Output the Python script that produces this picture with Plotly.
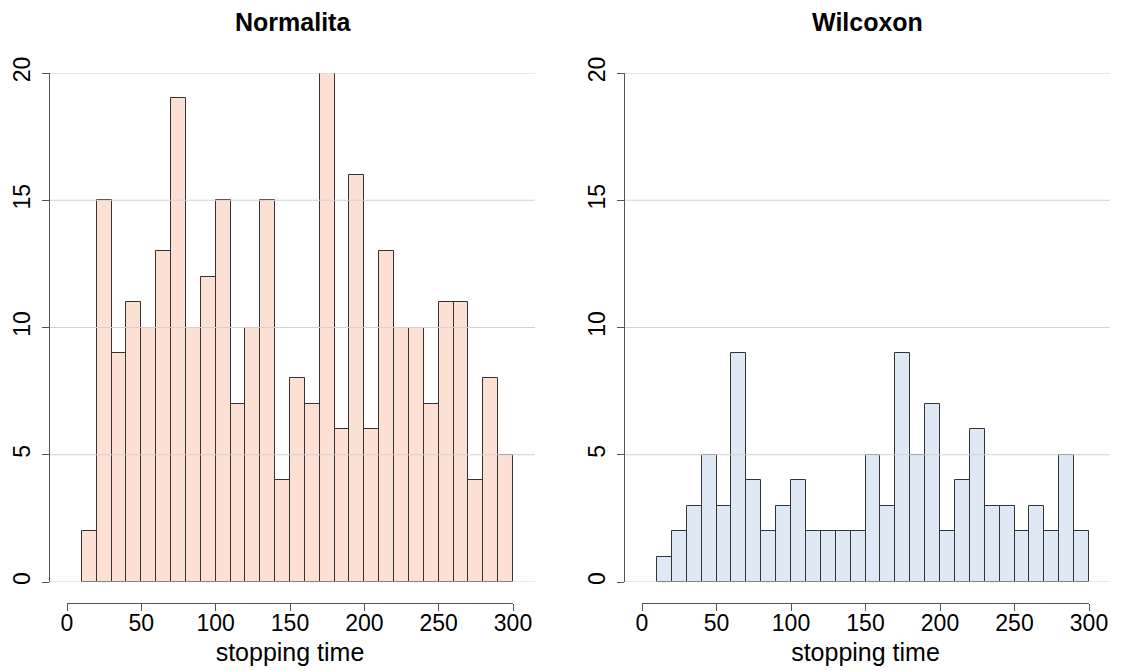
import plotly.graph_objects as go

# Histogram counts per 10-unit bin of stopping time (bins 10-20, 20-30, ..., 290-300)
bin_width = 10
bin_starts = list(range(10, 300, bin_width))

normalita_counts = [2, 15, 9, 11, 10, 13, 19, 10, 12, 15, 7, 10, 15, 4, 8,
                    7, 20, 6, 16, 6, 13, 10, 10, 7, 11, 11, 4, 8, 5]
wilcoxon_counts = [1, 2, 3, 5, 3, 9, 4, 2, 3, 4, 2, 2, 2, 2, 5,
                   3, 9, 5, 7, 2, 4, 6, 3, 3, 2, 3, 2, 5, 2]

panel_titles = ["Normalita", "Wilcoxon"]
x_tick_vals = [0, 50, 100, 150, 200, 250, 300]
y_tick_vals = [0, 5, 10, 15, 20]
x_label = "stopping time"

fill_colors = ["#FCE0D4", "#DEE9F5"]
outline = "#333333"
axis_color = "#555555"
grid_color = "#D2D2D2"
font_family = "Liberation Sans, Arial, sans-serif"

W, H = 1124, 671
ml, mr, mt, mb = 50, 14, 73, 68
pw = W - ml - mr          # paper width in px
ph = H - mt - mb          # paper height in px

# panel geometry in px (relative to paper)
panels = [
    dict(left=0, right=485, x0=17, x300=463),
    dict(left=575, right=1060, x0=592, x300=1039),
]
plot_bottom = 21          # px above paper bottom where the count axis starts

centers = [s + bin_width / 2 for s in bin_starts]
series = [normalita_counts, wilcoxon_counts]

fig = go.Figure()
layout = dict(
    width=W, height=H,
    margin=dict(l=ml, r=mr, t=mt, b=mb, autoexpand=False),
    paper_bgcolor="white", plot_bgcolor="rgba(0,0,0,0)",
    showlegend=False,
    font=dict(family=font_family, color="black", size=23),
    bargap=0,
    annotations=[],
    shapes=[],
)

for i, p in enumerate(panels):
    n = i + 1
    xa = "x" if n == 1 else f"x{n}"
    ya = "y" if n == 1 else f"y{n}"
    xk = "xaxis" if n == 1 else f"xaxis{n}"
    yk = "yaxis" if n == 1 else f"yaxis{n}"

    fig.add_trace(go.Bar(
        x=centers, y=series[i], width=bin_width,
        marker=dict(color=fill_colors[i], line=dict(color=outline, width=1)),
        xaxis=xa, yaxis=ya, hoverinfo="x+y",
    ))

    # data-to-pixel scale so that 0 and 300 fall on the drawn axis ends
    scale = (p["x300"] - p["x0"]) / 300.0
    rmin = -(p["x0"] - p["left"]) / scale
    rmax = (p["right"] - p["x0"]) / scale

    layout[xk] = dict(
        domain=[p["left"] / pw, p["right"] / pw],
        range=[rmin, rmax], visible=False, anchor=ya, automargin=False,
    )
    layout[yk] = dict(
        domain=[plot_bottom / ph, 1], range=[0, 20], anchor=xa,
        tickvals=y_tick_vals, tickangle=-90,
        ticks="outside", ticklen=7, tickcolor=axis_color,
        showline=True, linecolor=axis_color, linewidth=1,
        showgrid=False, zeroline=False, tickfont=dict(size=23),
        ticklabelstandoff=3, automargin=False,
    )

    # horizontal reference lines drawn over the bars at each count tick
    for v in y_tick_vals:
        layout["shapes"].append(dict(
            type="line", xref=f"{xa} domain", yref=ya,
            x0=0, x1=1, y0=v, y1=v, layer="above",
            line=dict(color=grid_color, width=1),
        ))

    # separate tick axis spanning 0..300 below the bars
    m = n + 2
    xak = f"x{m}"
    layout[f"xaxis{m}"] = dict(
        domain=[p["x0"] / pw, p["x300"] / pw], range=[0, 300],
        anchor="free", position=0,
        tickvals=x_tick_vals, ticks="outside", ticklen=7,
        tickcolor=axis_color, showline=True, linecolor=axis_color,
        linewidth=1, showgrid=False, zeroline=False,
        tickfont=dict(size=23), ticklabelstandoff=-8, automargin=False,
        title=dict(text=x_label, font=dict(size=25), standoff=8),
    )
    fig.add_trace(go.Scatter(
        x=[0, 300], y=[0, 0], mode="markers",
        marker=dict(opacity=0), xaxis=xak, yaxis=ya,
        hoverinfo="skip", showlegend=False,
    ))

    layout["annotations"].append(dict(
        text=f"<b>{panel_titles[i]}</b>",
        xref="paper", yref="paper",
        x=(p["left"] + p["right"]) / 2 / pw, y=1 + (mt - 22) / ph,
        xanchor="center", yanchor="middle", showarrow=False,
        font=dict(size=25, family=font_family),
    ))

fig.update_layout(**layout)
fig.write_html("out.html")
